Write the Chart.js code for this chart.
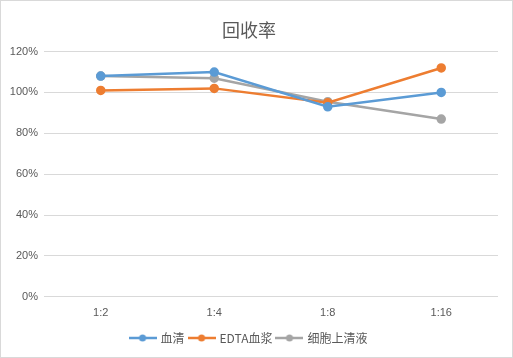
<!DOCTYPE html>
<html>
<head>
<meta charset="utf-8">
<script src="https://cdn.jsdelivr.net/npm/chart.js@4"></script>
<style>
  html, body { margin: 0; padding: 0; background: #fff; }
  #wrap { width: 513px; height: 358px; }
</style>
</head>
<body>
<div id="wrap"><canvas id="chart1" width="513" height="358"></canvas></div>
<script>
var categories = ['1:2', '1:4', '1:8', '1:16'];
var seriesNames = ['血清', 'EDTA血浆', '细胞上清液'];
var serum = [1.08, 1.10, 0.93, 1.00];
var edtaPlasma = [1.01, 1.02, 0.95, 1.12];
var supernatant = [1.08, 1.07, 0.955, 0.87];
var seriesColors = ['#5b9bd5', '#ed7d31', '#a5a5a5'];
var fontCJK = '"Noto Sans CJK SC", "Liberation Sans", sans-serif';

function legendIcon(color) {
    var c = document.createElement('canvas');
    c.width = 28;
    c.height = 10;
    var g = c.getContext('2d');
    g.strokeStyle = color;
    g.lineWidth = 2.5;
    g.beginPath();
    g.moveTo(0, 5);
    g.lineTo(28, 5);
    g.stroke();
    g.fillStyle = color;
    g.beginPath();
    g.arc(14, 5, 3.5, 0, Math.PI * 2);
    g.fill();
    return c;
}

var borderPlugin = {
    id: 'outerBorder',
    afterDraw: function (chart) {
        var ctx = chart.ctx;
        ctx.save();
        ctx.strokeStyle = '#d9d9d9';
        ctx.lineWidth = 1;
        ctx.strokeRect(0.5, 0.5, chart.width - 1, chart.height - 1);
        ctx.restore();
    }
};

var allData = [serum, edtaPlasma, supernatant];
var datasets = [];
for (var i = 0; i < 3; i++) {
    datasets.push({
        label: seriesNames[i],
        data: allData[i],
        borderColor: seriesColors[i],
        backgroundColor: seriesColors[i],
        borderWidth: 2.5,
        pointRadius: 3.5,
        pointHoverRadius: 3.5,
        pointStyle: 'circle',
        legendIcon: legendIcon(seriesColors[i]),
        tension: 0
    });
}

var ctx = document.getElementById('chart1').getContext('2d');
var chart1 = new Chart(ctx, {
    type: 'line',
    data: { labels: categories, datasets: datasets },
    plugins: [borderPlugin],
    options: {
        responsive: false,
        animation: false,
        layout: { padding: { left: 0, right: 15, top: 0, bottom: 4 } },
        plugins: {
            title: {
                display: true,
                text: '回收率',
                color: '#595959',
                font: { family: fontCJK, size: 18, weight: 'normal' },
                padding: { top: 19, bottom: 11 }
            },
            legend: {
                position: 'bottom',
                labels: {
                    usePointStyle: true,
                    pointStyleWidth: 24,
                    boxHeight: 10,
                    padding: 5,
                    color: '#595959',
                    font: { family: fontCJK, size: 12 },
                    generateLabels: function (chart) {
                        return chart.data.datasets.map(function (d, i) {
                            return {
                                text: d.label,
                                fillStyle: d.borderColor,
                                strokeStyle: d.borderColor,
                                lineWidth: 0,
                                pointStyle: d.legendIcon,
                                datasetIndex: i,
                                hidden: false,
                                fontColor: '#595959'
                            };
                        });
                    }
                }
            },
            tooltip: { enabled: false }
        },
        scales: {
            x: {
                offset: true,
                grid: { display: false },
                border: { display: false },
                afterFit: function (axis) { axis.height += 5; },
                ticks: {
                    color: '#595959',
                    padding: 2,
                    font: { family: '"Liberation Sans", sans-serif', size: 11 }
                }
            },
            y: {
                min: 0,
                max: 1.2,
                afterFit: function (axis) { axis.width = 44; },
                grid: { color: '#d9d9d9', drawTicks: false },
                border: { display: false },
                ticks: {
                    stepSize: 0.2,
                    padding: 6,
                    color: '#595959',
                    font: { family: '"Liberation Sans", sans-serif', size: 11 },
                    callback: function (v) { return Math.round(v * 100) + '%'; }
                }
            }
        }
    }
});
</script>
</body>
</html>
